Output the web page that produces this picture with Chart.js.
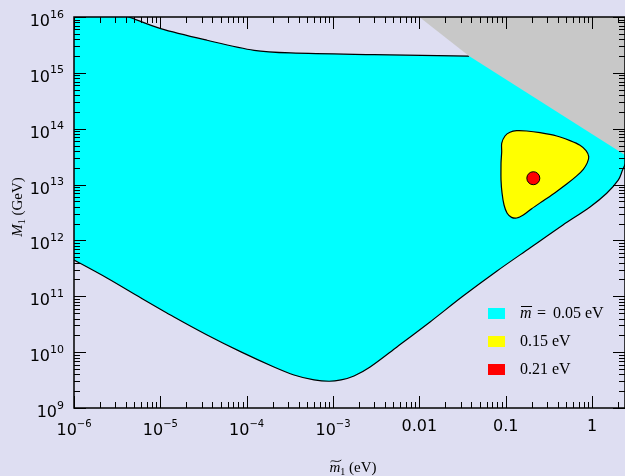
<!DOCTYPE html>
<html>
<head>
<meta charset="utf-8">
<script src="https://cdn.jsdelivr.net/npm/chart.js@4.4.1/dist/chart.umd.min.js"></script>
<style>
  html, body { margin: 0; padding: 0; background: #dedef2; }
  canvas { display: block; }
</style>
</head>
<body>
<canvas id="chart" width="625" height="476"></canvas>
<script>
// axis ranges
const xMin = 1e-6, xMax = 2.41;
const yMin = 1e9, yMax = 1e16;

// m_bar = 0.05 eV region (first/last points sit outside the frame, clipped away)
const cyanX = [1e-7, 1.95e-6, 4.34e-6, 1.01e-5, 3.48e-5, 1.22e-4, 3.24e-4, 2.99e-3, 3.76e-2,
  0.3, 8, 3.5, 2.61, 2.26, 2.02, 1.48, 0.948, 0.461, 0.191, 0.0794, 0.0321, 0.0133,
  5.51e-3, 2.69e-3, 1.75e-3, 1.24e-3, 9.0e-4, 6.03e-4, 3.53e-4, 2.07e-4, 8.59e-5,
  3.48e-5, 1.44e-5, 5.97e-6, 2.41e-6, 1e-6, 4.5e-7];
const cyanY = [1e17, 1.57e16, 1e16, 6.18e15, 3.83e15, 2.53e15, 2.27e15, 2.12e15, 2.0e15,
  1.9e15, 1.9e15, 8e13, 2.99e13, 1.82e13, 1.21e13, 6.98e12, 3.97e12, 1.89e12, 7.32e11, 2.84e11, 1.01e11, 3.47e10,
  1.24e10, 5.42e9, 3.74e9, 3.18e9, 3.01e9, 3.18e9, 3.90e9, 5.42e9, 1.01e10,
  2.03e10, 4.26e10, 9.33e10, 2.13e11, 4.47e11, 8.63e11];

// excluded (grey) corner
const grayX = [4.0e-3, 3.76e-2, 4.7, 4.7];
const grayY = [3.04e16, 2.0e15, 1.75e13, 1e17];

// m_bar = 0.15 eV region (closed: the first two points are repeated at the end)
const yellowX = [0.0883, 0.0883, 0.0899, 0.0899, 0.0982, 0.112, 0.134, 0.175, 0.250, 0.390, 0.556,
  0.726, 0.853, 0.916, 0.883, 0.793, 0.665, 0.509, 0.373, 0.273, 0.200, 0.160, 0.134,
  0.117, 0.104, 0.0957, 0.0908, 0.0883, 0.0883];
const yellowY = [1.21e13, 2.40e13, 3.88e13, 5.48e13, 7.41e13, 8.63e13, 9.22e13, 9.10e13, 8.49e13, 7.41e13, 6.11e13,
  5.05e13, 4.04e13, 3.16e13, 2.47e13, 1.88e13, 1.43e13, 1.02e13, 7.16e12, 5.14e12, 3.70e12, 2.85e12, 2.52e12,
  2.59e12, 3.06e12, 4.31e12, 6.98e12, 1.21e13, 2.40e13];

// m_bar = 0.21 eV point
const redX = [0.209];
const redY = [1.30e13];

const xMajor = [1e-6, 1e-5, 1e-4, 1e-3, 1e-2, 1e-1, 1];
const xLabels = [['10', '\u22126'], ['10', '\u22125'], ['10', '\u22124'], ['10', '\u22123'], ['0.01'], ['0.1'], ['1']];
const yMajor = [1e9, 1e10, 1e11, 1e12, 1e13, 1e14, 1e15, 1e16];
const yLabels = ['9', '10', '11', '12', '13', '14', '15', '16'];
const legendLabels = ['= 0.05 eV', '0.15 eV', '0.21 eV'];

const BG = '#dedef2';
const CYAN = '#00ffff', YELLOW = '#ffff00', RED = '#ff0000', GREY = '#c8c8c8';

const pts = (xs, ys) => xs.map((v, i) => ({x: v, y: ys[i]}));
const hidden = 'rgba(0,0,0,0)';

// boundary strokes reuse the fill points (one extra neighbour each side so the curves match)
const cyanTop = pts(cyanX, cyanY).slice(0, 10);      // visible segments 1..8
const cyanLow = pts(cyanX, cyanY).slice(11);         // visible from index 1 on
const hideEnds = (first, last) => (ctx) =>
  (ctx.p0DataIndex < first || ctx.p0DataIndex >= last) ? hidden : undefined;

const decor = {
  id: 'decor',
  beforeDraw(chart) {
    const {ctx, width, height} = chart;
    ctx.save();
    ctx.fillStyle = BG;
    ctx.fillRect(0, 0, width, height);
    ctx.restore();
  },
  afterDatasetsDraw(chart) {
    const {ctx, chartArea: a, scales: {x, y}} = chart;
    ctx.save();
    ctx.strokeStyle = '#000';
    ctx.lineWidth = 1;
    const seg = (x0, y0, x1, y1) => { ctx.beginPath(); ctx.moveTo(x0, y0); ctx.lineTo(x1, y1); ctx.stroke(); };

    // x ticks, inward on bottom and top
    for (let d = -6; d <= 0; d++) {
      for (let k = 1; k <= 9; k++) {
        const v = k * Math.pow(10, d);
        if (v > xMax) continue;
        const px = Math.round(x.getPixelForValue(v)) + 0.5;
        const len = k === 1 ? 12 : 6;
        seg(px, a.bottom, px, a.bottom - len);
        seg(px, a.top, px, a.top + len);
      }
    }
    // y ticks, inward on left and right
    for (let d = 9; d <= 16; d++) {
      for (let k = 1; k <= 9; k++) {
        const v = k * Math.pow(10, d);
        if (v > yMax) continue;
        const py = Math.round(y.getPixelForValue(v)) + 0.5;
        const len = k === 1 ? 12 : 6;
        seg(a.left, py, a.left + len, py);
        seg(a.right, py, a.right - len, py);
      }
    }
    // frame
    ctx.lineWidth = 1.5;
    ctx.strokeRect(a.left, a.top, a.right - a.left, a.bottom - a.top);

    // tick labels
    ctx.fillStyle = '#000';
    ctx.textBaseline = 'alphabetic';
    ctx.textAlign = 'left';
    const big = '16px "DejaVu Sans"', small = '10px "DejaVu Sans"', ysmall = '11px "DejaVu Sans"';
    xMajor.forEach((v, i) => {
      const px = x.getPixelForValue(v);
      const lab = xLabels[i];
      if (lab.length === 2) {
        ctx.font = big; const w1 = ctx.measureText(lab[0]).width;
        ctx.font = small; const w2 = ctx.measureText(lab[1]).width;
        const x0 = px - (w1 + w2) / 2;
        ctx.font = big; ctx.fillText(lab[0], x0, 435);
        ctx.font = small; ctx.fillText(lab[1], x0 + w1, 427);
      } else {
        ctx.font = big;
        const w = ctx.measureText(lab[0]).width;
        ctx.fillText(lab[0], px - w / 2, 431);
      }
    });
    yMajor.forEach((v, i) => {
      const py = y.getPixelForValue(v);
      ctx.font = ysmall; const w2 = ctx.measureText(yLabels[i]).width;
      ctx.font = big; const w1 = ctx.measureText('10').width;
      const right = 64;
      ctx.fillText('10', right - w2 - w1, py + 9);
      ctx.font = ysmall; ctx.fillText(yLabels[i], right - w2, py + 0.5);
    });

    // axis titles
    const serif = '"Liberation Serif", "DejaVu Serif", serif';
    const drawTitle = (cx, base, mark, rest) => {
      const letter = mark === 'tilde' ? 'm' : 'M';
      ctx.font = 'italic 15px ' + serif; const wmm = ctx.measureText(letter).width;
      ctx.font = '10px ' + serif; const ws = ctx.measureText('1').width;
      ctx.font = '15px ' + serif; const wr = ctx.measureText(rest).width;
      let x0 = cx - (wmm + ws + wr) / 2;
      ctx.font = 'italic 15px ' + serif;
      ctx.fillText(letter, x0, base);
      if (mark === 'tilde') {
        ctx.beginPath();
        const tx = x0 + 1, ty = base - 11, tw = wmm;
        ctx.moveTo(tx, ty + 1);
        ctx.bezierCurveTo(tx + tw * 0.25, ty - 2.5, tx + tw * 0.5, ty + 3, tx + tw, ty - 1);
        ctx.lineWidth = 0.9;
        ctx.stroke();
      }
      x0 += wmm;
      ctx.font = '10px ' + serif;
      ctx.fillText('1', x0, base + 3);
      x0 += ws;
      ctx.font = '15px ' + serif;
      ctx.fillText(rest, x0, base);
    };
    drawTitle(353, 472, 'tilde', ' (eV)');
    ctx.save();
    ctx.translate(22, 207);
    ctx.rotate(-Math.PI / 2);
    drawTitle(0, 0, 'plain', ' (GeV)');
    ctx.restore();

    // legend
    const colors = [CYAN, YELLOW, RED];
    const bases = [318, 346, 374];
    colors.forEach((c, i) => {
      ctx.fillStyle = c;
      ctx.fillRect(488, bases[i] - 10, 17, 11);
      ctx.fillStyle = '#000';
      if (i === 0) {
        ctx.font = 'italic 16px ' + serif;
        const wm = ctx.measureText('m').width;
        ctx.fillText('m', 520, bases[i]);
        ctx.lineWidth = 1;
        seg(521, bases[i] - 11.5, 520 + wm + 0.5, bases[i] - 11.5);
        ctx.font = '16px ' + serif;
        ctx.fillText('=', 537, bases[i]);
        ctx.fillText(legendLabels[i].slice(2), 553, bases[i]);
      } else {
        ctx.font = '16px ' + serif;
        ctx.fillText(legendLabels[i], 520, bases[i]);
      }
    });
    ctx.restore();
  }
};

new Chart(document.getElementById('chart'), {
  type: 'line',
  data: {
    datasets: [
      {
        data: pts(redX, redY), order: 0, showLine: false,
        pointRadius: 6.5, pointBackgroundColor: RED, pointBorderColor: '#000', pointBorderWidth: 1
      },
      {
        data: pts(yellowX, yellowY), order: 1, fill: false, borderColor: '#000', borderWidth: 1.2,
        tension: 0.3, pointRadius: 0,
        segment: { borderColor: hideEnds(1, 99) }
      },
      {
        data: pts(yellowX, yellowY), order: 2, fill: 'shape', backgroundColor: YELLOW,
        borderWidth: 0, borderColor: hidden, tension: 0.3, pointRadius: 0
      },
      {
        data: pts(grayX, grayY), order: 3, fill: 'shape', backgroundColor: GREY,
        borderWidth: 0, borderColor: hidden, tension: 0, pointRadius: 0
      },
      {
        data: cyanTop, order: 4, fill: false, borderColor: '#000', borderWidth: 1.2,
        tension: 0.3, pointRadius: 0,
        segment: { borderColor: hideEnds(1, 8) }
      },
      {
        data: cyanLow, order: 5, fill: false, borderColor: '#000', borderWidth: 1.2,
        tension: 0.3, pointRadius: 0,
        segment: { borderColor: hideEnds(1, 99) }
      },
      {
        data: pts(cyanX, cyanY), order: 6, fill: 'shape', backgroundColor: CYAN,
        borderWidth: 0, borderColor: hidden, tension: 0.3, pointRadius: 0
      }
    ]
  },
  options: {
    responsive: false,
    animation: false,
    layout: { autoPadding: false, padding: { left: 74, top: 17, right: 0, bottom: 68 } },
    scales: {
      x: { type: 'logarithmic', min: xMin, max: xMax, display: false },
      y: { type: 'logarithmic', min: yMin, max: yMax, display: false }
    },
    elements: { line: { capBezierPoints: false } },
    plugins: { legend: { display: false }, tooltip: { enabled: false } }
  },
  plugins: [decor]
});
</script>
</body>
</html>
